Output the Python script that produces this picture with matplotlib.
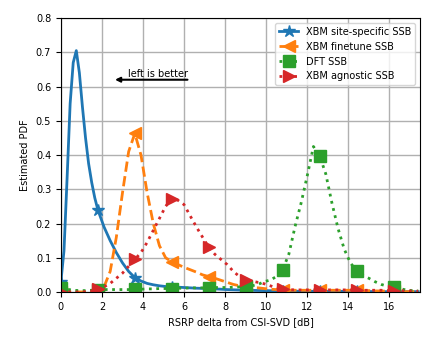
import numpy as np
import matplotlib
matplotlib.use("Agg")
import matplotlib.pyplot as plt

# sampling grid for the KDE-like curves (dB)
x_grid = np.round(np.arange(0, 17.41, 0.3), 2)

# XBM site-specific SSB (finer sampling near the peak)
x_site = [0, 0.15, 0.3, 0.45, 0.6, 0.75, 0.9, 1.05, 1.2, 1.35, 1.5, 1.65, 1.8, 2.1, 2.4,
          2.7, 3.0, 3.3, 3.6, 3.9, 4.2, 4.5, 4.8, 5.1, 5.4, 6.0, 6.6, 7.2, 8.1, 9.0,
          9.9, 10.8, 11.7, 12.6, 13.5, 14.4, 15.3, 16.2, 17.1, 17.4]
y_site = [0.03, 0.12, 0.33, 0.55, 0.67, 0.705, 0.64, 0.54, 0.45, 0.375, 0.32, 0.275, 0.24,
          0.19, 0.15, 0.115, 0.085, 0.06, 0.042, 0.032, 0.025, 0.021, 0.018, 0.016,
          0.015, 0.013, 0.011, 0.01, 0.007, 0.005, 0.004, 0.003, 0.002, 0.002, 0.002,
          0.002, 0.001, 0.001, 0.001, 0.001]

# XBM finetune SSB
y_fine = [0.0, 0.0, 0.0, 0.0, 0.0, 0.0, 0.003, 0.015, 0.06, 0.16, 0.29, 0.41, 0.463,
          0.40, 0.29, 0.20, 0.135, 0.10, 0.088, 0.08, 0.072, 0.065, 0.058, 0.05, 0.045,
          0.04, 0.034, 0.028, 0.022, 0.018, 0.015, 0.013, 0.012, 0.01, 0.008, 0.007,
          0.006, 0.005, 0.005, 0.005, 0.005, 0.005, 0.005, 0.005, 0.005, 0.005, 0.005,
          0.005, 0.005, 0.004, 0.004, 0.003, 0.003, 0.002, 0.002, 0.002, 0.001, 0.001,
          0.001]

# DFT SSB
y_dft = [0.012, 0.008, 0.005, 0.004, 0.004, 0.005, 0.006, 0.007, 0.007, 0.007, 0.007,
         0.007, 0.008, 0.008, 0.009, 0.009, 0.01, 0.01, 0.01, 0.011, 0.011, 0.012, 0.012,
         0.012, 0.013, 0.013, 0.013, 0.013, 0.014, 0.015, 0.016, 0.018, 0.022, 0.03,
         0.035, 0.045, 0.065, 0.11, 0.19, 0.26, 0.34, 0.425, 0.398, 0.345, 0.26, 0.185,
         0.125, 0.085, 0.062, 0.048, 0.04, 0.03, 0.022, 0.017, 0.015, 0.01, 0.006,
         0.004, 0.003]

# XBM agnostic SSB
y_agn = [0.0, 0.0, 0.0, 0.0, 0.001, 0.003, 0.008, 0.015, 0.025, 0.04, 0.055, 0.075,
         0.095, 0.115, 0.145, 0.18, 0.215, 0.25, 0.273, 0.268, 0.255, 0.222, 0.19, 0.16,
         0.13, 0.11, 0.095, 0.08, 0.06, 0.045, 0.036, 0.032, 0.028, 0.024, 0.018, 0.012,
         0.009, 0.007, 0.006, 0.006, 0.006, 0.006, 0.006, 0.006, 0.006, 0.006, 0.006,
         0.006, 0.005, 0.005, 0.005, 0.005, 0.005, 0.004, 0.004, 0.004, 0.003, 0.003,
         0.002]

marker_x = [0, 1.8, 3.6, 5.4, 7.2, 9.0, 10.8, 12.6, 14.4, 16.2]


def marks(xs):
    xs = np.asarray(xs)
    return [int(np.argmin(np.abs(xs - m))) for m in marker_x]


plt.rcParams['font.size'] = 7
fig = plt.figure(figsize=(4.35, 3.48), dpi=100)
ax = fig.add_axes([0.140, 0.161, 0.826, 0.787])

ax.plot(x_site, y_site, '-', color='tab:blue', lw=2, marker='*', ms=9,
        markevery=marks(x_site), label='XBM site-specific SSB')
ax.plot(x_grid, y_fine, '--', color='tab:orange', lw=2, marker='<', ms=9,
        markevery=marks(x_grid), label='XBM finetune SSB')
ax.plot(x_grid, y_dft, ':', color='tab:green', lw=2, marker='s', ms=8.5,
        markevery=marks(x_grid), label='DFT SSB')
ax.plot(x_grid, y_agn, ':', color='tab:red', lw=2, marker='>', ms=9,
        markevery=marks(x_grid), label='XBM agnostic SSB')

ax.annotate('', xy=(2.5, 0.62), xytext=(6.3, 0.62),
            arrowprops=dict(arrowstyle='-|>', color='k', lw=1.5))
ax.text(6.2, 0.623, 'left is better', ha='right', va='bottom', fontsize=7)

ax.set_xlim(0, 17.5)
ax.set_ylim(0, 0.8)
ax.set_xticks(np.arange(0, 17, 2))
ax.set_yticks(np.arange(0, 0.81, 0.1))
ax.grid(True, color='#b0b0b0', lw=1)
ax.set_axisbelow(True)
ax.set_xlabel('RSRP delta from CSI-SVD [dB]')
ax.set_ylabel('Estimated PDF')
ax.legend(loc='upper right', fontsize=7)

fig.savefig('out.png', dpi=100)
